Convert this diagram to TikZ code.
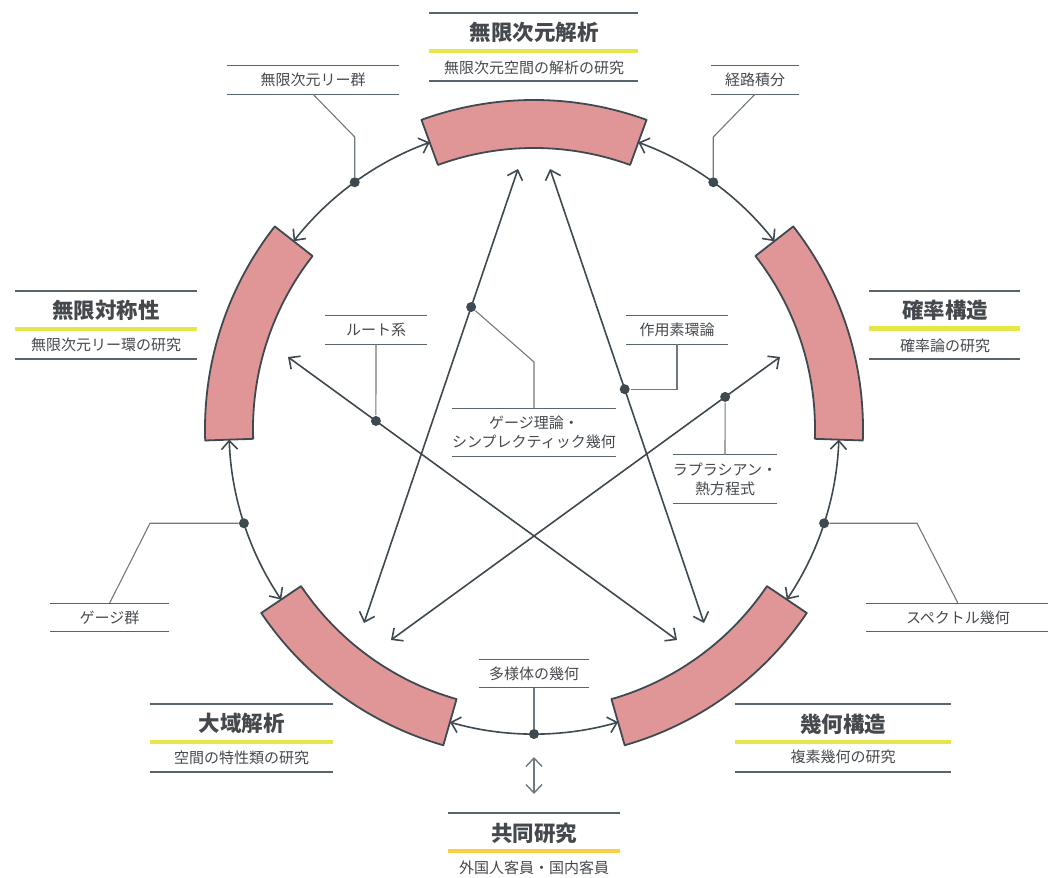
\documentclass[tikz,border=0pt]{standalone}
\usepackage{fontspec}
\setmainfont{Noto Sans CJK JP}
\usetikzlibrary{arrows.meta}

\definecolor{ink}{HTML}{3E4A50}
\definecolor{blush}{HTML}{E09696}
\definecolor{lime}{HTML}{E6E648}
\definecolor{gold}{HTML}{F7D046}
\definecolor{ruleg}{HTML}{5A656B}
\definecolor{linkg}{HTML}{6E7A80}
\definecolor{txt}{HTML}{45494D}

\begin{document}
\begin{tikzpicture}[x=1pt,y=-1pt,
  >={Straight Barb[length=8.5pt,width=16pt]},
  ring/.style={draw=ink,line width=1.6pt,<->},
  blk/.style={draw=ink,fill=blush,line width=1.8pt,line join=round},
  pt/.style={circle,fill=ink,inner sep=0pt,minimum size=10pt},
  link/.style={draw=linkg,line width=1.1pt},
  rule/.style={draw=ruleg,line width=1.3pt},
  hl/.style={draw=lime,line width=4.5pt},
  tag/.style={text=txt,font=\fontsize{15}{19}\selectfont,align=center,inner sep=0pt,minimum height=28pt},
  ttl/.style={text=txt,font=\fontsize{21.5}{25}\selectfont\bfseries},
  sub/.style={text=txt,font=\fontsize{15}{18}\selectfont}]

\useasboundingbox (0,0) rectangle (1048,877);

% the five blocks and the outer ring
\begin{scope}[shift={(534,429)}]
\draw[blk] (-110:281) arc[start angle=-110,end angle=-70,radius=281] -- (-70:329) arc[start angle=-70,end angle=-110,radius=329] -- cycle;
\draw[blk] (-38:281) arc[start angle=-38,end angle=2,radius=281] -- (2:329) arc[start angle=2,end angle=-38,radius=329] -- cycle;
\draw[blk] (34:281) arc[start angle=34,end angle=74,radius=281] -- (74:329) arc[start angle=74,end angle=34,radius=329] -- cycle;
\draw[blk] (106:281) arc[start angle=106,end angle=146,radius=281] -- (146:329) arc[start angle=146,end angle=106,radius=329] -- cycle;
\draw[blk] (178:281) arc[start angle=178,end angle=218,radius=281] -- (218:329) arc[start angle=218,end angle=178,radius=329] -- cycle;

\draw[ring] (-70:305) arc[start angle=-70,end angle=-38,radius=305];
\draw[ring] (2:305) arc[start angle=2,end angle=34,radius=305];
\draw[ring] (74:305) arc[start angle=74,end angle=106,radius=305];
\draw[ring] (146:305) arc[start angle=146,end angle=178,radius=305];
\draw[ring] (218:305) arc[start angle=218,end angle=250,radius=305];

\node[pt] (dpint) at (-54:305) {};
\node[pt] (dspec) at (18:305) {};
\node[pt] (dmfd) at (90:305) {};
\node[pt] (dgauge) at (162:305) {};
\node[pt] (dlie) at (234:305) {};
\end{scope}

% the star lines
\coordinate (a1) at (518,169); \coordinate (a2) at (364,623);
\coordinate (b1) at (550,169); \coordinate (b2) at (704,623);
\coordinate (c1) at (288,357); \coordinate (c2) at (677,640);
\coordinate (e1) at (780,357); \coordinate (e2) at (391,640);
\draw[ring] (a1) -- node[pt,pos=0.304] (dgt) {} (a2);
\draw[ring] (b1) -- node[pt,pos=0.485] (dop) {} (b2);
\draw[ring] (c1) -- node[pt,pos=0.226] (droot) {} (c2);
\draw[ring] (e1) -- node[pt,pos=0.141] (dlap) {} (e2);

% titled boxes
\draw[rule] (429,13) -- (638,13);
\node[ttl] (tinf) at (534,32) {無限次元解析};
\draw[hl] (429,51) -- (638,51);
\node[sub] (sinf) at (534,68) {無限次元空間の解析の研究};
\draw[rule] (429,81) -- (638,81);

\draw[rule] (15,291) -- (197,291);
\node[ttl] (tsym) at (106,310) {無限対称性};
\draw[hl] (15,329) -- (197,329);
\node[sub] (ssym) at (106,345) {無限次元リー環の研究};
\draw[rule] (15,359) -- (197,359);

\draw[rule] (869,291) -- (1020,291);
\node[ttl] (tprob) at (945,310) {確率構造};
\draw[hl] (869,328.5) -- (1020,328.5);
\node[sub] (sprob) at (945,346) {確率論の研究};
\draw[rule] (869,359) -- (1020,359);

\draw[rule] (150,704) -- (333,704);
\node[ttl] (tglob) at (241.5,723) {大域解析};
\draw[hl] (150,742) -- (333,742);
\node[sub] (sglob) at (241.5,758) {空間の特性類の研究};
\draw[rule] (150,772) -- (333,772);

\draw[rule] (735,704) -- (951,704);
\node[ttl] (tgeo) at (843,724) {幾何構造};
\draw[hl] (735,742) -- (951,742);
\node[sub] (sgeo) at (843,757) {複素幾何の研究};
\draw[rule] (735,772) -- (951,772);

\draw[rule] (448,813) -- (620,813);
\node[ttl] (tco) at (534,833) {共同研究};
\draw[hl,draw=gold] (448,851) -- (620,851);
\node[sub] (sco) at (534,868) {外国人客員・国内客員};

% the small labels
\node[tag,minimum width=172pt] (lie) at (313,80) {無限次元リー群};
\node[tag,minimum width=87pt] (pint) at (755,80) {経路積分};
\node[tag,minimum width=118pt] (gauge) at (109.5,617.5) {ゲージ群};
\node[tag,minimum width=184pt] (spec) at (958,617.5) {スペクトル幾何};
\node[tag,minimum width=110pt] (mfd) at (534,673.5) {多様体の幾何};
\node[tag,minimum width=102pt] (root) at (376,330) {ルート系};
\node[tag,minimum width=102pt] (op) at (677,330) {作用素環論};
\node[tag,minimum width=154pt,minimum height=48pt] (gt) at (534,432.5) {ゲージ理論・\\シンプレクティック幾何};
\node[tag,minimum width=103pt,minimum height=48pt] (lap) at (725,479) {ラプラシアン・\\熱方程式};

\draw[rule] (lie.north west) -- (lie.north east) (lie.south west) -- (lie.south east);
\draw[rule] (pint.north west) -- (pint.north east) (pint.south west) -- (pint.south east);
\draw[rule] (gauge.north west) -- (gauge.north east) (gauge.south west) -- (gauge.south east);
\draw[rule] (spec.north west) -- (spec.north east) (spec.south west) -- (spec.south east);
\draw[rule] (mfd.north west) -- (mfd.north east) (mfd.south west) -- (mfd.south east);
\draw[rule] (root.north west) -- (root.north east) (root.south west) -- (root.south east);
\draw[rule] (op.north west) -- (op.north east) (op.south west) -- (op.south east);
\draw[rule] (gt.north west) -- (gt.north east) (gt.south west) -- (gt.south east);
\draw[rule] (lap.north west) -- (lap.north east) (lap.south west) -- (lap.south east);

% callout lines
\draw[link] (lie.south) -- (dlie |- 0,137) -- (dlie);
\draw[link] (pint.south) -- (dpint |- 0,137) -- (dpint);
\draw[link] (gauge.north) -- (dgauge -| 150,0) -- (dgauge);
\draw[link] (spec.north) -- (dspec -| 917,0) -- (dspec);
\draw[link] (mfd.south) -- (dmfd);
\draw[link] (droot) -- (root.south);
\draw[link] (dop) -- (dop -| op.south) -- (op.south);
\draw[link] (dgt) -- (gt.north |- 0,362) -- (gt.north);
\draw[link] (dlap) -- (lap.north);

% to the joint research
\coordinate (up) at (534,757); \coordinate (dn) at (534,794);
\draw[ring,draw=linkg,line width=1.4pt] (up) -- (dn);

\end{tikzpicture}
\end{document}
